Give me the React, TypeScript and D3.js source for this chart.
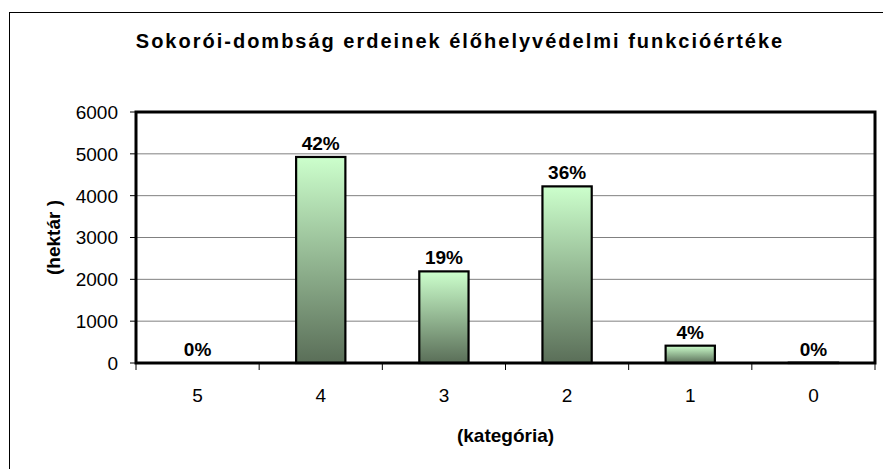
import React from "react";
import * as d3 from "d3";

const categories = ["5", "4", "3", "2", "1", "0"];
const values = [0, 4925, 2190, 4222, 414, 8];
const pctLabels = ["0%", "42%", "19%", "36%", "4%", "0%"];
const yTicks = [0, 1000, 2000, 3000, 4000, 5000, 6000];

const W = 883;
const H = 469;
const plot = { left: 136, right: 875, top: 112, bottom: 363 };
const font = "Arial, 'Liberation Sans', Helvetica, sans-serif";

export default function App() {
  const x = d3
    .scaleBand<string>()
    .domain(categories)
    .range([plot.left, plot.right])
    .paddingInner(0.6)
    .paddingOuter(0.3);
  const band = (plot.right - plot.left) / categories.length;
  const barW = band / 2.5;
  const y = d3.scaleLinear().domain([0, 6000]).range([plot.bottom, plot.top]);

  return (
    <svg
      width={W}
      height={H}
      style={{ position: "absolute", left: 0, top: 0, background: "#fff" }}
      fontFamily={font}
    >
      <defs>
        <linearGradient id="barGrad" x1="0" y1="0" x2="0" y2="1">
          <stop offset="0%" stopColor="#CCFFCC" />
          <stop offset="100%" stopColor="#5A6E58" />
        </linearGradient>
      </defs>
      <rect x={0} y={0} width={W} height={H} fill="#fff" />
      {/* outer chart border */}
      <rect x={9.5} y={12.5} width={W + 10} height={H + 10} fill="none" stroke="#000" strokeWidth={1} />

      <text x={460} y={48} textAnchor="middle" fontSize={20} fontWeight="bold" fill="#000" letterSpacing={2}>
        Sokorói-dombság erdeinek élőhelyvédelmi funkcióértéke
      </text>

      {/* gridlines */}
      {yTicks.map((t) => (
        <line key={"g" + t} x1={plot.left} x2={plot.right} y1={y(t)} y2={y(t)} stroke="#808080" strokeWidth={1} />
      ))}
      {/* y ticks */}
      {yTicks.map((t) => (
        <g key={"yt" + t}>
          <line x1={plot.left - 6} x2={plot.left} y1={y(t)} y2={y(t)} stroke="#000" strokeWidth={1} />
          <text x={118} y={y(t)} dy="0.36em" textAnchor="end" fontSize={19} fill="#000">
            {t}
          </text>
        </g>
      ))}
      {/* x ticks */}
      {d3.range(categories.length + 1).map((i) => (
        <line
          key={"xt" + i}
          x1={plot.left + i * band}
          x2={plot.left + i * band}
          y1={plot.bottom}
          y2={plot.bottom + 7}
          stroke="#000"
          strokeWidth={1}
        />
      ))}
      {categories.map((c) => (
        <text key={"xl" + c} x={(x(c) as number) + x.bandwidth() / 2} y={402} textAnchor="middle" fontSize={19} fill="#000">
          {c}
        </text>
      ))}

      {/* bars */}
      {categories.map((c, i) => {
        const cx = (x(c) as number) + x.bandwidth() / 2;
        const top = y(values[i]);
        const h = plot.bottom - top;
        return (
          <g key={"b" + c}>
            {values[i] > 0 && (
              <rect
                x={cx - barW / 2}
                y={top}
                width={barW}
                height={h}
                fill="url(#barGrad)"
                stroke="#000"
                strokeWidth={2.2}
              />
            )}
            <text x={cx} y={top - 7} textAnchor="middle" fontSize={19} fontWeight="bold" fill="#000">
              {pctLabels[i]}
            </text>
          </g>
        );
      })}

      {/* plot border */}
      <rect
        x={plot.left}
        y={plot.top}
        width={plot.right - plot.left}
        height={plot.bottom - plot.top}
        fill="none"
        stroke="#000"
        strokeWidth={3}
      />

      {/* axis titles */}
      <text
        transform={`translate(60, ${(plot.top + plot.bottom) / 2}) rotate(-90)`}
        textAnchor="middle"
        fontSize={19}
        fontWeight="bold"
        fill="#000"
      >
        (hektár )
      </text>
      <text x={(plot.left + plot.right) / 2} y={442} textAnchor="middle" fontSize={19} fontWeight="bold" fill="#000">
        (kategória)
      </text>
    </svg>
  );
}
